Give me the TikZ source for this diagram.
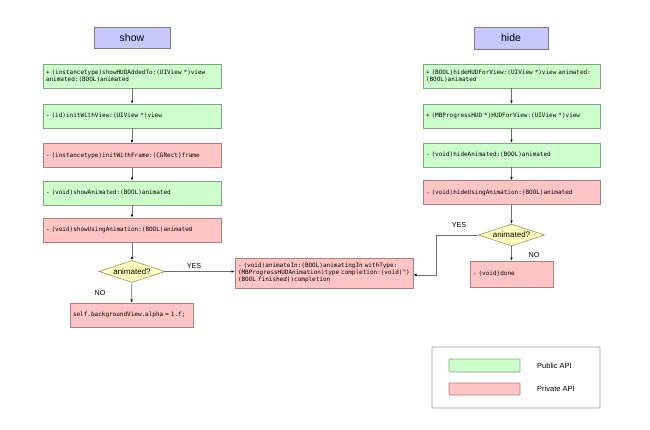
\documentclass[tikz,border=0pt]{standalone}
\usepackage{fontspec}
\setmainfont{Liberation Sans}
\newfontfamily\monof{DejaVu Sans Mono}
\usetikzlibrary{shapes.geometric,arrows.meta}
\definecolor{titlefill}{RGB}{200,200,255}
\definecolor{titledraw}{RGB}{120,120,150}
\definecolor{pubfill}{RGB}{204,255,204}
\definecolor{pubdraw}{RGB}{130,165,130}
\definecolor{privfill}{RGB}{255,196,196}
\definecolor{privdraw}{RGB}{175,125,125}
\definecolor{decfill}{RGB}{255,255,190}
\definecolor{decdraw}{RGB}{150,150,100}
\definecolor{linec}{RGB}{110,110,110}
\tikzset{
  titlebox/.style={draw=titledraw, fill=titlefill, line width=0.6pt, minimum width=76pt, minimum height=21pt, inner sep=0pt, font=\fontsize{10.5}{12}\selectfont},
  apibox/.style={draw=#1draw, fill=#1fill, line width=0.6pt, minimum height=24pt, inner xsep=3pt, inner ysep=0pt, align=left, font=\monof\fontsize{6}{7.2}\selectfont},
  decision/.style={diamond, aspect=3, draw=decdraw, fill=decfill, line width=0.6pt, minimum width=66pt, minimum height=22pt, inner sep=0pt, font=\fontsize{8}{9}\selectfont},
  lbl/.style={inner sep=0pt, font=\fontsize{7.2}{8}\selectfont},
  legtext/.style={inner sep=0pt, anchor=west, font=\fontsize{7.5}{9}\selectfont},
  conn/.style={draw=linec, line width=0.7pt, -{Latex[length=3.2pt,width=2.6pt,color=black]}},
}
\begin{document}
\begin{tikzpicture}[x=1pt,y=-1pt]
\useasboundingbox[fill=white] (0,0) rectangle (650,429);
% titles
\node[titlebox] (show) at (132,37.5) {show};
\node[titlebox, minimum width=74pt, minimum height=22pt] (hide) at (511,38) {hide};
% left column
\node[apibox=pub, text width=172pt] (l1) at (132,76) {+ (instancetype)showHUDAddedTo:(UIView *)view\\animated:(BOOL)animated};
\node[apibox=pub, text width=172pt] (l2) at (132,116) {- (id)initWithView:(UIView *)view};
\node[apibox=priv, text width=172pt] (l3) at (132,155.5) {- (instancetype)initWithFrame:(CGRect)frame};
\node[apibox=pub, text width=172pt] (l4) at (132,193) {- (void)showAnimated:(BOOL)animated};
\node[apibox=priv, text width=172pt] (l5) at (132,230) {- (void)showUsingAnimation:(BOOL)animated};
\node[decision] (ld) at (132,271.5) {animated?};
\node[apibox=priv, text width=117pt] (lno) at (131.5,315) {self.backgroundView.alpha = 1.f;};
\node[apibox=priv, text width=172pt, minimum height=30pt] (anim) at (324,273) {- (void)animateIn:(BOOL)animatingIn withType:\\(MBProgressHUDAnimation)type completion:(void(\^{})\\(BOOL finished))completion};
% right column
\node[apibox=pub, text width=171pt] (r1) at (511.5,76) {+ (BOOL)hideHUDForView:(UIView *)view animated:\\(BOOL)animated};
\node[apibox=pub, text width=171pt] (r2) at (511.5,116) {+ (MBProgressHUD *)HUDForView:(UIView *)view};
\node[apibox=pub, text width=171pt] (r3) at (511.5,155) {- (void)hideAnimated:(BOOL)animated};
\node[apibox=priv, text width=171pt] (r4) at (511.5,192.5) {- (void)hideUsingAnimation:(BOOL)animated};
\node[decision] (rd) at (511.5,235) {animated?};
\node[apibox=priv, text width=77pt, minimum height=26pt] (done) at (511.5,274) {- (void)done};
% labels
\node[lbl] (lyes) at (194,266) {YES};
\node[lbl] (lnolbl) at (100,293) {NO};
\node[lbl] (ryes) at (459,225) {YES};
\node[lbl] (rnolbl) at (534,255) {NO};
% connectors
\draw[conn] (l1) -- (l2);
\draw[conn] (l2) -- (l3);
\draw[conn] (l3) -- (l4);
\draw[conn] (l4) -- (l5);
\draw[conn] (l5) -- (ld);
\draw[conn] (ld) -- (lno);
\draw[conn] (ld.east) -- (ld.east -| anim.west);
\draw[conn] (r1) -- (r2);
\draw[conn] (r2) -- (r3);
\draw[conn] (r3) -- (r4);
\draw[conn] (r4) -- (rd);
\draw[conn] (rd) -- (done);
\coordinate (bend) at (436,275);
\draw[conn] (rd.west) -| (bend) -- (bend -| anim.east);
% legend
\node[draw=black!40, line width=0.6pt, rounded corners=1pt, minimum width=168pt, minimum height=61pt, inner sep=0pt] (legend) at (516,377.5) {};
\node[draw=pubdraw, fill=pubfill, line width=0.6pt, minimum width=71pt, minimum height=13pt, inner sep=0pt, rounded corners=0.5pt] (lgpub) at (484.5,365.5) {};
\node[draw=privdraw, fill=privfill, line width=0.6pt, minimum width=71pt, minimum height=12pt, inner sep=0pt, rounded corners=0.5pt] (lgpriv) at (484.5,389) {};
\node[legtext] (lgpubt) at (537,365.5) {Public API};
\node[legtext] (lgprivt) at (537,389) {Private API};
\end{tikzpicture}
\end{document}
